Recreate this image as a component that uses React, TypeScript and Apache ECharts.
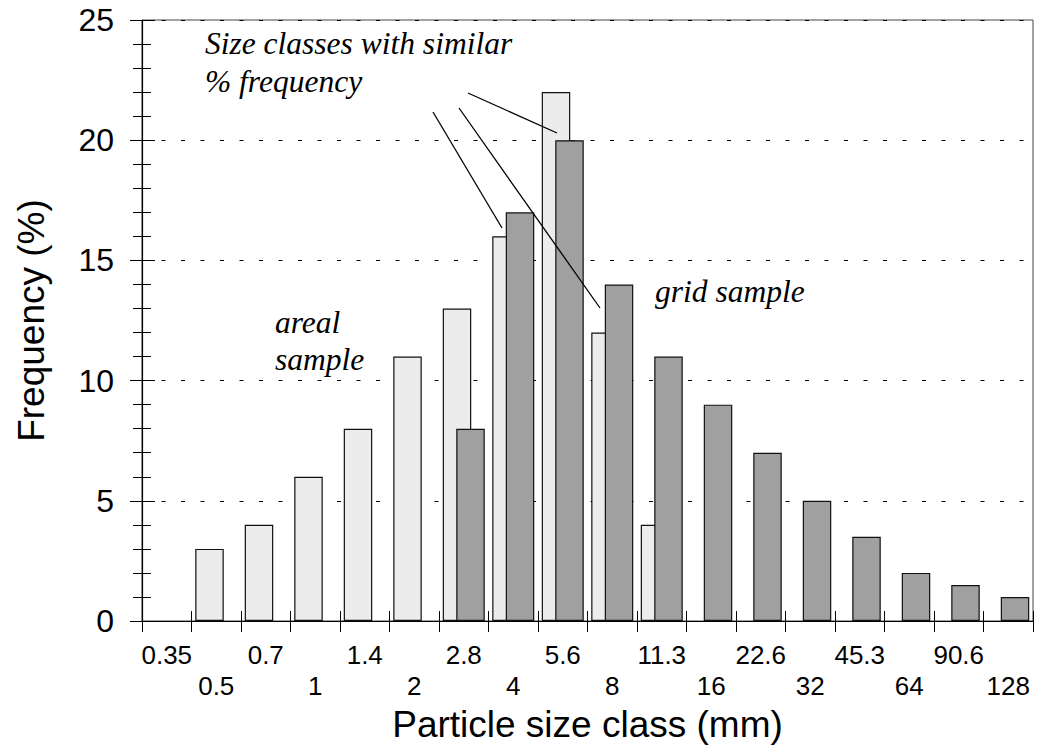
import React, { useEffect, useRef } from "react";
import * as echarts from "echarts";

const categories = ["0.35", "0.5", "0.7", "1", "1.4", "2", "2.8", "4", "5.6", "8", "11.3", "16", "22.6", "32", "45.3", "64", "90.6", "128"];
const arealSample = [null, 3, 4, 6, 8, 11, 13, 16, 22, 12, 4, null, null, null, null, null, null, null];
const gridSample = [null, null, null, null, null, null, 8, 17, 20, 14, 11, 9, 7, 5, 3.5, 2, 1.5, 1];
const yMin = 0;
const yMax = 25;
const yInterval = 5;

const annotationTexts = [
  { text: "Size classes with similar", x: 205, y: 43 },
  { text: "% frequency", x: 205, y: 81 },
  { text: "areal", x: 275, y: 322 },
  { text: "sample", x: 275, y: 359 },
  { text: "grid sample", x: 655, y: 291 },
];
const annotationLines = [
  [468, 93, 557, 133],
  [459, 108, 600, 308],
  [433, 112, 502, 228],
];

export default function App() {
  const ref = useRef<HTMLDivElement>(null);
  useEffect(() => {
    document.body.style.margin = "0";
    if (!ref.current) return;
    const chart = echarts.init(ref.current, null, { renderer: "svg" });
    const sans = "Liberation Sans, Arial, sans-serif";
    const serif = "Liberation Serif, Times New Roman, serif";
    const option: any = {
      animation: false,
      backgroundColor: "#ffffff",
      grid: {
        left: 142,
        right: 6,
        top: 20,
        bottom: 127,
        show: true,
        borderColor: "#444",
        borderWidth: 1,
        backgroundColor: "transparent",
      },
      xAxis: [
        {
          type: "category",
          data: categories,
          boundaryGap: true,
          position: "bottom",
          axisLine: { show: true, lineStyle: { color: "#000", width: 1.2 } },
          axisTick: { show: true, interval: 0, length: 11, lineStyle: { color: "#000" } },
          axisLabel: {
            interval: 0,
            margin: 18,
            fontFamily: sans,
            fontSize: 26,
            lineHeight: 31,
            color: "#000",
            formatter: (v: string, i: number) => (i % 2 === 1 ? "\n" + v : v),
          },
          splitLine: { show: false },
          name: "Particle size class (mm)",
          nameLocation: "middle",
          nameGap: 84,
          nameTextStyle: { fontFamily: sans, fontSize: 37, color: "#000" },
        },
        {
          type: "category",
          data: categories,
          boundaryGap: true,
          position: "bottom",
          axisLine: { show: false },
          axisTick: { show: true, inside: true, interval: 0, length: 10, lineStyle: { color: "#000" } },
          axisLabel: { show: false },
          splitLine: { show: false },
        },
      ],
      yAxis: [
        {
          type: "value",
          min: yMin,
          max: yMax,
          interval: yInterval,
          axisLine: { show: true, lineStyle: { color: "#000", width: 1.2 } },
          axisTick: { show: true, length: 12, lineStyle: { color: "#000" } },
          minorTick: { show: true, splitNumber: 5, length: 9, lineStyle: { color: "#000" } },
          axisLabel: { margin: 28, fontFamily: sans, fontSize: 32, color: "#000" },
          splitLine: {
            show: true,
            lineStyle: { color: "#000", type: [4, 15.5], width: 1 },
          },
          name: "Frequency (%)",
          nameLocation: "middle",
          nameGap: 92,
          nameTextStyle: { fontFamily: sans, fontSize: 37, color: "#000" },
        },
        {
          type: "value",
          min: yMin,
          max: yMax,
          interval: yInterval,
          position: "left",
          axisLine: { show: false },
          axisTick: { show: true, inside: true, length: 13, lineStyle: { color: "#000" } },
          minorTick: { show: true, splitNumber: 5, length: 9, lineStyle: { color: "#000" } },
          axisLabel: { show: false },
          splitLine: { show: false },
        },
      ],
      series: [
        {
          name: "areal sample",
          type: "bar",
          data: arealSample,
          barWidth: 28.5,
          barGap: "-52.6%",
          itemStyle: { color: "#ececec", borderColor: "#111", borderWidth: 1.2 },
        },
        {
          name: "grid sample",
          type: "bar",
          data: gridSample,
          barWidth: 28.5,
          barGap: "-52.6%",
          itemStyle: { color: "#a0a0a0", borderColor: "#111", borderWidth: 1.2 },
        },
      ],
      graphic: [
        ...annotationLines.map((l) => ({
          type: "line",
          shape: { x1: l[0], y1: l[1], x2: l[2], y2: l[3] },
          style: { stroke: "#000", lineWidth: 1.3 },
          z: 100,
        })),
        ...annotationTexts.map((t) => ({
          type: "text",
          x: t.x,
          y: t.y,
          style: {
            text: t.text,
            fontFamily: serif,
            fontStyle: "italic",
            fontSize: 31.5,
            fill: "#000",
            textVerticalAlign: "middle",
          },
          z: 100,
        })),
      ],
    };
    chart.setOption(option);
    return () => chart.dispose();
  }, []);
  return <div ref={ref} style={{ width: 1039, height: 748 }} />;
}
